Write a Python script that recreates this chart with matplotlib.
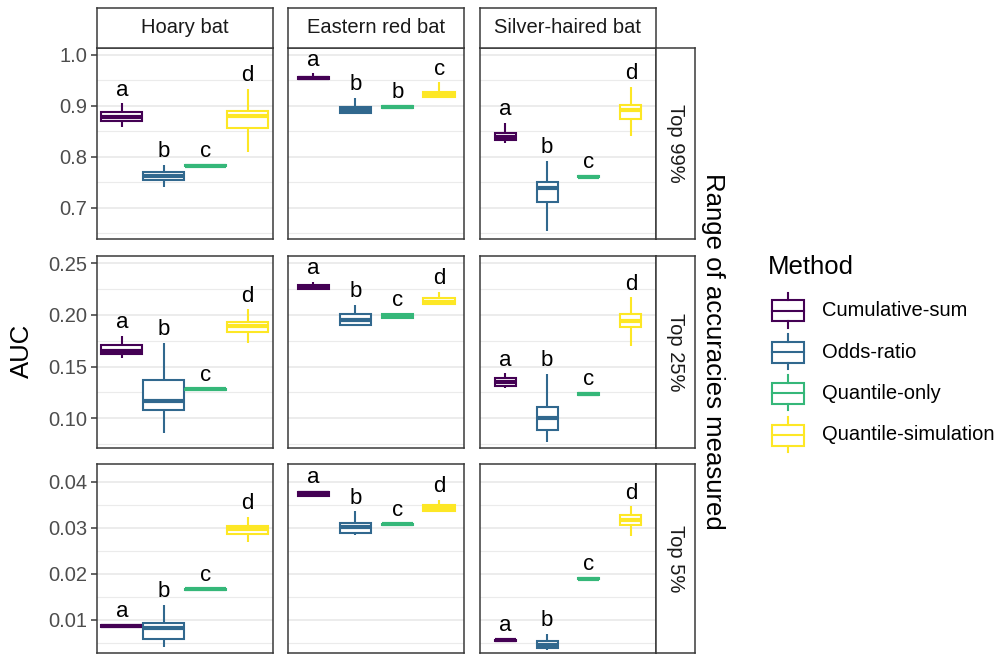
import numpy as np
import matplotlib.pyplot as plt
from matplotlib.patches import Rectangle
from matplotlib.lines import Line2D

plt.rcParams['font.family'] = ['Liberation Sans', 'DejaVu Sans']

species = ['Hoary bat', 'Eastern red bat', 'Silver-haired bat']
ranges = ['Top 99%', 'Top 25%', 'Top 5%']
methods = ['Cumulative-sum', 'Odds-ratio', 'Quantile-only', 'Quantile-simulation']
colors = ['#440154', '#31688E', '#35B779', '#FDE725']

# box summaries, indexed [range][species][method]
whislo = [
    [[0.859, 0.741, 0.780, 0.809], [0.950, 0.884, 0.894, 0.915], [0.827, 0.654, 0.759, 0.840]],
    [[0.158, 0.086, 0.1270, 0.1726], [0.2245, 0.190, 0.1965, 0.2096], [0.129, 0.0773, 0.1225, 0.170]],
    [[0.0084, 0.0041, 0.0164, 0.0268], [0.0366, 0.0284, 0.0305, 0.0336], [0.0054, 0.0034, 0.0187, 0.0282]],
]
q1 = [
    [[0.871, 0.755, 0.781, 0.856], [0.952, 0.886, 0.895, 0.917], [0.832, 0.711, 0.760, 0.875]],
    [[0.1622, 0.108, 0.1275, 0.1835], [0.2255, 0.1905, 0.197, 0.2105], [0.1315, 0.089, 0.123, 0.188]],
    [[0.0085, 0.0058, 0.0165, 0.0287], [0.0369, 0.0289, 0.0306, 0.0337], [0.0055, 0.0039, 0.0188, 0.0305]],
]
med = [
    [[0.879, 0.762, 0.782, 0.880], [0.954, 0.892, 0.897, 0.922], [0.838, 0.738, 0.761, 0.891]],
    [[0.1655, 0.117, 0.128, 0.189], [0.227, 0.195, 0.199, 0.213], [0.135, 0.100, 0.1235, 0.1945]],
    [[0.0086, 0.0082, 0.0166, 0.0296], [0.0374, 0.0301, 0.0307, 0.0343], [0.0056, 0.0046, 0.0189, 0.0316]],
]
q3 = [
    [[0.887, 0.769, 0.783, 0.889], [0.956, 0.898, 0.899, 0.927], [0.847, 0.751, 0.762, 0.902]],
    [[0.1709, 0.137, 0.1285, 0.1935], [0.2295, 0.2005, 0.2005, 0.2165], [0.1385, 0.111, 0.124, 0.201]],
    [[0.0088, 0.0094, 0.0167, 0.0304], [0.0377, 0.0311, 0.0308, 0.0349], [0.0057, 0.0054, 0.0190, 0.0328]],
]
whishi = [
    [[0.905, 0.784, 0.784, 0.933], [0.964, 0.915, 0.901, 0.946], [0.867, 0.792, 0.763, 0.938]],
    [[0.1796, 0.173, 0.129, 0.2055], [0.2322, 0.2096, 0.201, 0.2225], [0.1435, 0.1428, 0.1245, 0.217]],
    [[0.0089, 0.0132, 0.0168, 0.0323], [0.0380, 0.0335, 0.0309, 0.0360], [0.0058, 0.0069, 0.0191, 0.0346]],
]
# significance groups shown above each box
letters = [
    [['a', 'b', 'c', 'd'], ['a', 'b', 'b', 'c'], ['a', 'b', 'c', 'd']],
    [['a', 'b', 'c', 'd'], ['a', 'b', 'c', 'd'], ['a', 'b', 'c', 'd']],
    [['a', 'b', 'c', 'd'], ['a', 'b', 'c', 'd'], ['a', 'b', 'c', 'd']],
]

y_limits = [(0.6373, 1.0147), (0.0712, 0.2571), (0.0029, 0.0438)]
y_major = [[0.7, 0.8, 0.9, 1.0], [0.10, 0.15, 0.20, 0.25], [0.01, 0.02, 0.03, 0.04]]
y_minor = [[0.65, 0.75, 0.85, 0.95], [0.075, 0.125, 0.175, 0.225], [0.005, 0.015, 0.025, 0.035]]
y_fmt = ['{:.1f}', '{:.2f}', '{:.2f}']
box_widths = [0.98, 0.75, 0.5]

W, H = 1003, 659
fig = plt.figure(figsize=(W / 100, H / 100), dpi=100)


def px_axes(x0, y0, x1, y1):
    # axes placed by pixel box, measured from the top-left corner
    return fig.add_axes([x0 / W, 1 - y1 / H, (x1 - x0) / W, (y1 - y0) / H])


border = '#3A3A3A'
grid_c = '#EBEBEB'
col_left = [96.7, 288.3, 480.0]
row_top = [47.5, 256.0, 464.0]
row_h = [192.0, 192.0, 188.5]
pw = 176.0
lw = 1.5

for r in range(3):
    for c in range(3):
        x0, y0 = col_left[c], row_top[r]
        ph = row_h[r]
        ax = px_axes(x0, y0, x0 + pw, y0 + ph)
        stats = []
        for m in range(4):
            stats.append(dict(whislo=whislo[r][c][m], q1=q1[r][c][m], med=med[r][c][m],
                              q3=q3[r][c][m], whishi=whishi[r][c][m], fliers=[], label=methods[m]))
        res = ax.bxp(stats, positions=np.arange(1, 5), widths=box_widths[c], patch_artist=True,
                     showcaps=False, showfliers=False)
        for m in range(4):
            col = colors[m]
            res['boxes'][m].set(facecolor='white', edgecolor=col, linewidth=lw, zorder=3)
            res['medians'][m].set(color=col, linewidth=2 * lw, solid_capstyle='butt', zorder=4)
            for wl in res['whiskers'][2 * m:2 * m + 2]:
                wl.set(color=col, linewidth=lw, solid_capstyle='butt', zorder=2)
            ax.annotate(letters[r][c][m], (m + 1, whishi[r][c][m]), xytext=(0, 5.6),
                        textcoords='offset points', ha='center', va='baseline',
                        fontsize=16, color='black', zorder=5)
        ax.set_xlim(0.4, 4.6)
        ax.set_ylim(*y_limits[r])
        ax.set_xticks([])
        ax.set_yticks(y_major[r])
        ax.set_yticks(y_minor[r], minor=True)
        ax.grid(True, which='major', axis='y', color=grid_c, linewidth=1.3)
        ax.grid(True, which='minor', axis='y', color=grid_c, linewidth=0.8)
        ax.set_axisbelow(True)
        ax.tick_params(axis='y', which='minor', length=0)
        if c == 0:
            ax.set_yticklabels([y_fmt[r].format(v) for v in y_major[r]])
            ax.tick_params(axis='y', which='major', length=4.5, width=1.1, color=border,
                           labelsize=14.5, labelcolor='#4D4D4D', pad=2.5)
        else:
            ax.tick_params(axis='y', which='major', length=0, labelleft=False)
        for sp in ax.spines.values():
            sp.set_color(border)
            sp.set_linewidth(1.1)

        # column strips on top
        if r == 0:
            st = px_axes(x0, 7.5, x0 + pw, y0)
            st.set_xticks([])
            st.set_yticks([])
            for sp in st.spines.values():
                sp.set_color(border)
                sp.set_linewidth(1.1)
            st.text(0.5, 0.5, species[c], ha='center', va='center', fontsize=14.5,
                    color='#1A1A1A', transform=st.transAxes)
        # row strips on the right
        if c == 2:
            st = px_axes(x0 + pw, y0, x0 + pw + 39, y0 + ph)
            st.set_xticks([])
            st.set_yticks([])
            for sp in st.spines.values():
                sp.set_color(border)
                sp.set_linewidth(1.1)
            st.text(0.5, 0.5, ranges[r], ha='center', va='center', fontsize=14.5,
                    rotation=270, color='#1A1A1A', transform=st.transAxes)

fig.text(22 / W, 1 - 351 / H, 'AUC', rotation=90, ha='center', va='center', fontsize=18.5)
fig.text(713 / W, 1 - 351 / H, 'Range of accuracies measured', rotation=270,
         ha='center', va='center', fontsize=18.5)

# legend drawn in pixel coordinates
lg = fig.add_axes([0, 0, 1, 1])
lg.set_xlim(0, W)
lg.set_ylim(H, 0)
lg.axis('off')
lg.text(768, 267, 'Method', ha='left', va='center', fontsize=18.5)
key_y = [310.7, 352.3, 393.3, 435.0]
for m in range(4):
    cy = key_y[m]
    col = colors[m]
    lg.add_patch(Rectangle((772, cy - 10.5), 32, 21, facecolor='white', edgecolor=col, linewidth=lw))
    lg.add_line(Line2D([772, 804], [cy, cy], color=col, linewidth=lw))
    lg.add_line(Line2D([788, 788], [cy - 18, cy - 10.5], color=col, linewidth=lw))
    lg.add_line(Line2D([788, 788], [cy + 10.5, cy + 17], color=col, linewidth=lw))
    lg.text(822, cy, methods[m], ha='left', va='center', fontsize=14.5)

fig.savefig('out.png', dpi=100)
